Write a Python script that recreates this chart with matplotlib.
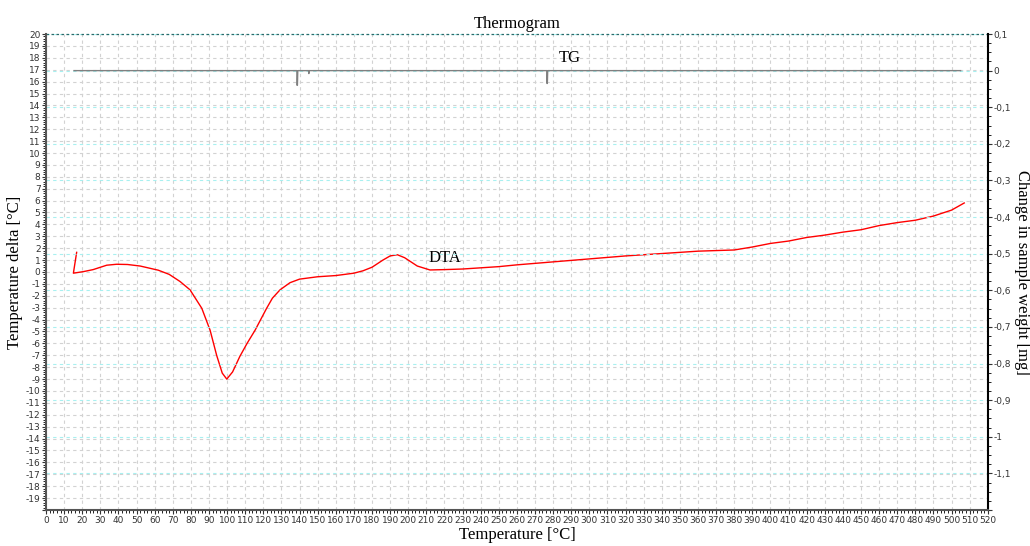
import numpy as np
import matplotlib.pyplot as plt
from matplotlib.ticker import MultipleLocator, FuncFormatter

plt.rcParams['axes.unicode_minus'] = False

# DTA curve (temperature delta, left axis)
dta_t = [16.9, 15.1, 20.6, 26, 33.5, 39, 45, 52, 62, 68, 74, 79.5, 86, 90.6,
         94.2, 97.3, 99.8, 103, 107, 111, 115.4, 121.8, 125, 129.2, 134.7, 140,
         150, 160, 170, 175, 180, 186, 190, 194, 198, 205, 212, 220, 230, 240,
         250, 260, 280, 300, 320, 340, 360, 380, 390, 400, 410, 420, 430, 440,
         450, 460, 470, 480, 490, 500, 507]
dta_v = [1.65, -0.1, 0.03, 0.2, 0.57, 0.65, 0.63, 0.5, 0.15, -0.2, -0.8, -1.5,
         -3.05, -4.9, -7.0, -8.5, -9.0, -8.4, -7.1, -6.0, -4.9, -3.05, -2.2,
         -1.5, -0.9, -0.6, -0.4, -0.3, -0.1, 0.1, 0.4, 1.0, 1.35, 1.45, 1.2,
         0.5, 0.17, 0.2, 0.25, 0.35, 0.45, 0.6, 0.85, 1.1, 1.35, 1.55, 1.75,
         1.85, 2.1, 2.4, 2.6, 2.9, 3.1, 3.35, 3.55, 3.9, 4.15, 4.35, 4.7, 5.2,
         5.8]

# TG curve (weight change, right axis)
tg_t = [15.5, 138.5, 138.6, 138.8, 139.0, 145.0, 145.1, 145.3, 276.5, 276.6,
        276.8, 277.0, 505]
tg_v = [0, 0, -0.04, -0.04, 0, 0, -0.008, 0, 0, -0.035, -0.035, 0, 0]

fig = plt.figure(figsize=(10.3, 5.46), dpi=100)
ax = fig.add_axes([0.0447, 0.066, 0.9143, 0.8717])
ax2 = ax.twinx()

ax.plot(dta_t, dta_v, color='red', linewidth=1)
ax2.plot(tg_t, tg_v, color='#808080', linewidth=1)

ax.set_xlim(0, 520)
ax.set_ylim(-20, 20)
ax2.set_ylim(-1.2, 0.1)

ax.xaxis.set_major_locator(MultipleLocator(10))
ax.xaxis.set_minor_locator(MultipleLocator(2))
ax.yaxis.set_major_locator(MultipleLocator(1))
ax.yaxis.set_minor_locator(MultipleLocator(0.2))
ax2.yaxis.set_major_locator(MultipleLocator(0.1))
ax2.yaxis.set_minor_locator(MultipleLocator(0.025))

ax.yaxis.set_major_formatter(FuncFormatter(
    lambda v, p: '' if round(v) == -20 else '%d' % round(v)))
def fmt_right(v, p):
    if v < -1.15:
        return ''
    s = ('%.1f' % v).replace('.', ',')
    s = s.replace(',0', '')
    if s == '-0':
        s = '0'
    return s
ax2.yaxis.set_major_formatter(FuncFormatter(fmt_right))

ax.grid(True, which='major', color='#d2d2d2', linestyle=(0, (3, 3)), linewidth=0.8)
ax2.grid(True, axis='y', which='major', color='#a8f0f0', linestyle=(0, (3, 3)),
         linewidth=0.8)

for a in (ax, ax2):
    a.tick_params(labelsize=6.5, length=3, width=0.8, colors='#333333', pad=1)
    a.tick_params(which='minor', length=2, width=0.6)
    a.spines['top'].set_visible(False)
ax.spines['right'].set_visible(False)
ax2.spines['left'].set_color('#555555')
ax2.spines['left'].set_linewidth(1.5)
ax2.spines['bottom'].set_color('#555555')
ax2.spines['bottom'].set_linewidth(1.5)
ax2.spines['right'].set_linewidth(1.5)
ax.spines['left'].set_visible(False)
ax.spines['bottom'].set_visible(False)
ax2.plot([0, 520], [0.1, 0.1], color='#2a6a6a', linestyle=(0, (2, 2)), linewidth=0.9,
         clip_on=False)

serif = 'Liberation Serif'
ax.set_title('Thermogram', family=serif, fontsize=12, pad=4)
ax.set_xlabel('Temperature [°C]', family=serif, fontsize=12, labelpad=2)
ax.set_ylabel('Temperature delta [°C]', family=serif, fontsize=12, labelpad=2)
ax2.set_ylabel('Change in sample weight [mg]', family=serif, fontsize=12,
               rotation=270, labelpad=14)

ax.text(289, 18.0, 'TG', family=serif, fontsize=12, ha='center', va='center')
ax.text(220, 1.2, 'DTA', family=serif, fontsize=12, ha='center', va='center')

fig.savefig('out.png', dpi=100)
